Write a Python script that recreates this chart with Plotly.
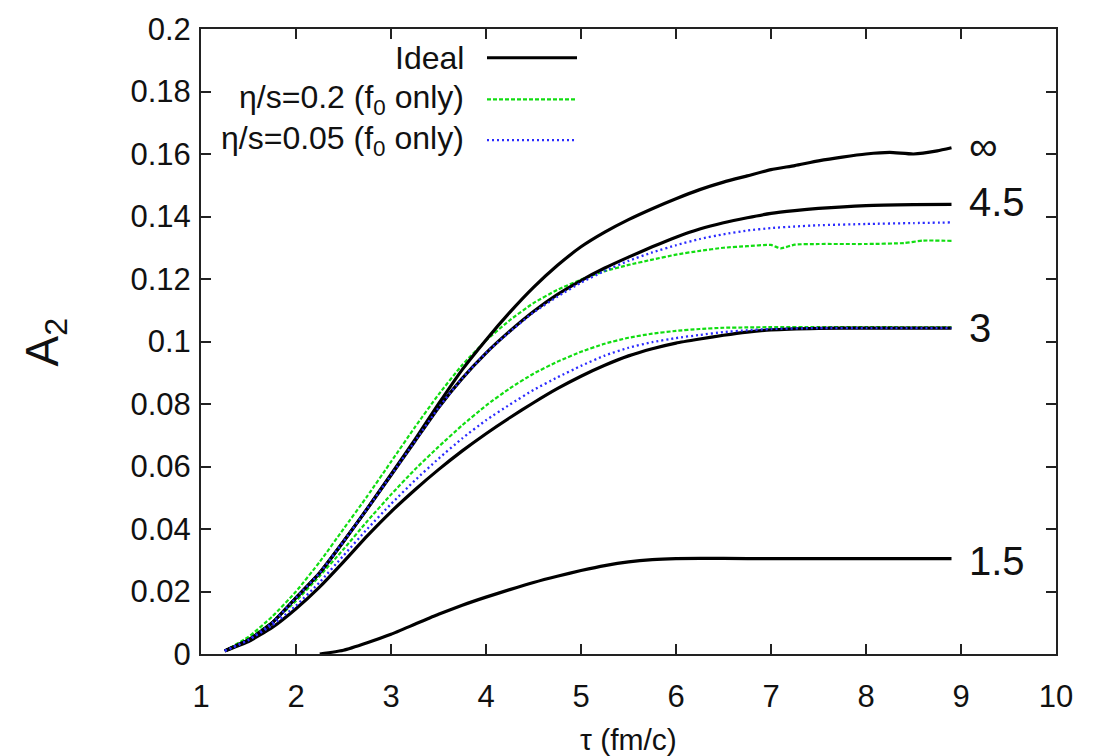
import plotly.graph_objects as go

# ---------------- data ----------------
x_inf = [1.25, 1.5, 1.75, 2.0, 2.25, 2.5, 2.75, 3.0, 3.25, 3.5, 3.75, 4.0, 4.25, 4.5, 4.75, 5.0,
         5.25, 5.5, 5.75, 6.0, 6.25, 6.5, 6.75, 7.0, 7.25, 7.5, 7.75, 8.0, 8.25, 8.5, 8.75, 8.9]
y_inf = [0.0010, 0.0045, 0.0100, 0.0180, 0.0260, 0.0360, 0.0465, 0.0575, 0.0685, 0.0800, 0.0910,
         0.1005, 0.1093, 0.1173, 0.1243, 0.1303, 0.1350, 0.1390, 0.1425, 0.1457, 0.1486, 0.1510,
         0.1530, 0.1550, 0.1563, 0.1578, 0.1590, 0.1600, 0.1605, 0.1600, 0.1610, 0.1620]

x_45 = [1.25, 1.5, 1.75, 2.0, 2.25, 2.5, 2.75, 3.0, 3.25, 3.5, 3.75, 4.0, 4.25, 4.5, 4.75, 5.0,
        5.25, 5.5, 5.75, 6.0, 6.25, 6.5, 6.75, 7.0, 7.25, 7.5, 8.0, 8.5, 8.9]
y_45_ideal = [0.0010, 0.0045, 0.0100, 0.0180, 0.0260, 0.0360, 0.0465, 0.0572, 0.0680, 0.0788,
              0.0882, 0.0963, 0.1033, 0.1096, 0.1150, 0.1195, 0.1235, 0.1270, 0.1303, 0.1334,
              0.1360, 0.1380, 0.1396, 0.1410, 0.1419, 0.1426, 0.1435, 0.1438, 0.1439]
y_45_blue = [0.0010, 0.0045, 0.0100, 0.0180, 0.0260, 0.0360, 0.0465, 0.0572, 0.0680, 0.0788,
             0.0882, 0.0963, 0.1031, 0.1093, 0.1143, 0.1188, 0.1226, 0.1258, 0.1285, 0.1308,
             0.1328, 0.1343, 0.1355, 0.1363, 0.1368, 0.1372, 0.1376, 0.1379, 0.1381]

x_45_green = [1.25, 1.5, 1.75, 2.0, 2.25, 2.5, 2.75, 3.0, 3.25, 3.5, 3.75, 4.0, 4.25, 4.5, 4.75,
              5.0, 5.25, 5.5, 5.75, 6.0, 6.25, 6.5, 6.75, 7.0, 7.1, 7.25, 7.5, 8.0, 8.4, 8.6, 8.9]
y_45_green = [0.0010, 0.0055, 0.0120, 0.0200, 0.0295, 0.0400, 0.0505, 0.0615, 0.0725, 0.0830,
              0.0925, 0.1003, 0.1068, 0.1123, 0.1165, 0.1198, 0.1225, 0.1245, 0.1262, 0.1278,
              0.1290, 0.1300, 0.1305, 0.1309, 0.1298, 0.1310, 0.1312, 0.1312, 0.1315, 0.1323, 0.1322]

x_3 = [1.25, 1.5, 1.75, 2.0, 2.25, 2.5, 2.75, 3.0, 3.25, 3.5, 3.75, 4.0, 4.25, 4.5, 4.75, 5.0,
       5.25, 5.5, 5.75, 6.0, 6.25, 6.5, 6.75, 7.0, 7.5, 8.0, 8.9]
y_3_ideal = [0.0010, 0.0040, 0.0085, 0.0145, 0.0215, 0.0295, 0.0378, 0.0455, 0.0525, 0.0590,
             0.0650, 0.0705, 0.0756, 0.0804, 0.0849, 0.0889, 0.0924, 0.0954, 0.0977, 0.0995,
             0.1008, 0.1020, 0.1030, 0.1037, 0.1042, 0.1043, 0.1043]
y_3_blue = [0.0010, 0.0045, 0.0092, 0.0155, 0.0230, 0.0315, 0.0400, 0.0480, 0.0555, 0.0625,
            0.0690, 0.0748, 0.0798, 0.0845, 0.0885, 0.0922, 0.0955, 0.0980, 0.0998, 0.1011,
            0.1021, 0.1030, 0.1036, 0.1040, 0.1043, 0.1043, 0.1043]
y_3_green = [0.0010, 0.0050, 0.0102, 0.0170, 0.0250, 0.0335, 0.0425, 0.0510, 0.0590, 0.0663,
             0.0732, 0.0795, 0.0850, 0.0897, 0.0935, 0.0967, 0.0993, 0.1012, 0.1025, 0.1034,
             0.1040, 0.1044, 0.1045, 0.1046, 0.1046, 0.1046, 0.1045]

x_15 = [2.25, 2.5, 2.75, 3.0, 3.25, 3.5, 3.75, 4.0, 4.25, 4.5, 4.75, 5.0, 5.25, 5.5, 5.75, 6.0,
        6.5, 7.0, 8.0, 8.9]
y_15 = [0.0000, 0.0012, 0.0036, 0.0063, 0.0095, 0.0127, 0.0156, 0.0182, 0.0206, 0.0229, 0.0249,
        0.0267, 0.0283, 0.0295, 0.0302, 0.0305, 0.0306, 0.0305, 0.0305, 0.0305]

curve_labels = ["∞", "4.5", "3", "1.5"]
curve_label_y = [0.1625, 0.1445, 0.1044, 0.0298]

legend_names = ["Ideal", "η/s=0.2 (f<sub>0</sub> only)", "η/s=0.05 (f<sub>0</sub> only)"]

x_ticks = [1, 2, 3, 4, 5, 6, 7, 8, 9, 10]
y_ticks = [0, 0.02, 0.04, 0.06, 0.08, 0.1, 0.12, 0.14, 0.16, 0.18, 0.2]
y_tick_text = ["0", "0.02", "0.04", "0.06", "0.08", "0.1", "0.12", "0.14", "0.16", "0.18", "0.2"]

x_title = "τ (fm/c)"
y_title = "A<sub>2</sub>"

# ---------------- styles ----------------
BLACK = "#000000"
GREEN = "#11dd11"
BLUE = "#2b2bff"
TXT = "#111111"
FONT = "Liberation Sans, Arial, sans-serif"

black_line = dict(color=BLACK, width=3.2)
green_line = dict(color=GREEN, width=2.2, dash="4px,2px")
blue_line = dict(color=BLUE, width=2.3, dash="2px,3px")

fig = go.Figure()


def add(x, y, line):
    fig.add_trace(go.Scatter(x=x, y=y, mode="lines",
                             line=dict(line, shape="spline", smoothing=0.5),
                             showlegend=False, hoverinfo="skip"))


add(x_3, y_3_green, green_line)
add(x_45_green, y_45_green, green_line)
add(x_inf, y_inf, black_line)
add(x_45, y_45_ideal, black_line)
add(x_3, y_3_ideal, black_line)
add(x_15, y_15, black_line)
add(x_3, y_3_blue, blue_line)
add(x_45, y_45_blue, blue_line)

# curve labels at the right end
for txt, yy in zip(curve_labels, curve_label_y):
    fig.add_annotation(x=9.06, y=yy, xref="x", yref="y", text=txt, showarrow=False,
                       xanchor="left", yanchor="middle",
                       font=dict(family=FONT, size=40, color=TXT))

W, H = 1093, 756
ml, mr, mt, mb = 201, 37, 24, 102
pw, ph = W - ml - mr, H - mt - mb


def pxx(px):
    return (px - ml) / pw


def pxy(py):
    return 1 - (py - mt) / ph


# gnuplot-style key (text right-aligned, sample to the right)
key_rows_py = [53, 95, 136]
styles = [black_line, green_line, blue_line]
for name, py, st in zip(legend_names, key_rows_py, styles):
    fig.add_annotation(x=pxx(466), y=pxy(py), xref="paper", yref="paper",
                       text=name, showarrow=False, xanchor="right", yanchor="middle",
                       font=dict(family=FONT, size=32, color=TXT))
    fig.add_shape(type="line", xref="paper", yref="paper",
                  x0=pxx(487), x1=pxx(577), y0=pxy(py), y1=pxy(py),
                  line=dict(color=st["color"], width=st["width"], dash=st.get("dash", "solid")))

# axis titles
fig.add_annotation(x=pxx(628), y=pxy(740), xref="paper", yref="paper", text=x_title,
                   showarrow=False, xanchor="center", yanchor="middle",
                   font=dict(family=FONT, size=30, color=TXT))
fig.add_annotation(x=pxx(45), y=pxy(340), xref="paper", yref="paper", text=y_title,
                   showarrow=False, xanchor="center", yanchor="middle", textangle=-90,
                   font=dict(family=FONT, size=46, color=TXT))

axis_common = dict(showgrid=False, zeroline=False, showline=True, mirror="ticks",
                   linecolor="#222222", linewidth=2, ticks="inside", ticklen=10,
                   tickwidth=2, tickcolor="#222222",
                   tickfont=dict(family=FONT, size=31, color=TXT))

fig.update_layout(
    width=W, height=H,
    margin=dict(l=ml, r=mr, t=mt, b=mb),
    paper_bgcolor="white", plot_bgcolor="white",
    xaxis=dict(axis_common, range=[1, 10], tickvals=x_ticks, ticklabelstandoff=14),
    yaxis=dict(axis_common, range=[0, 0.2], tickvals=y_ticks, ticktext=y_tick_text,
               ticklabelstandoff=2),
    showlegend=False,
)

fig.write_html("out.html")
